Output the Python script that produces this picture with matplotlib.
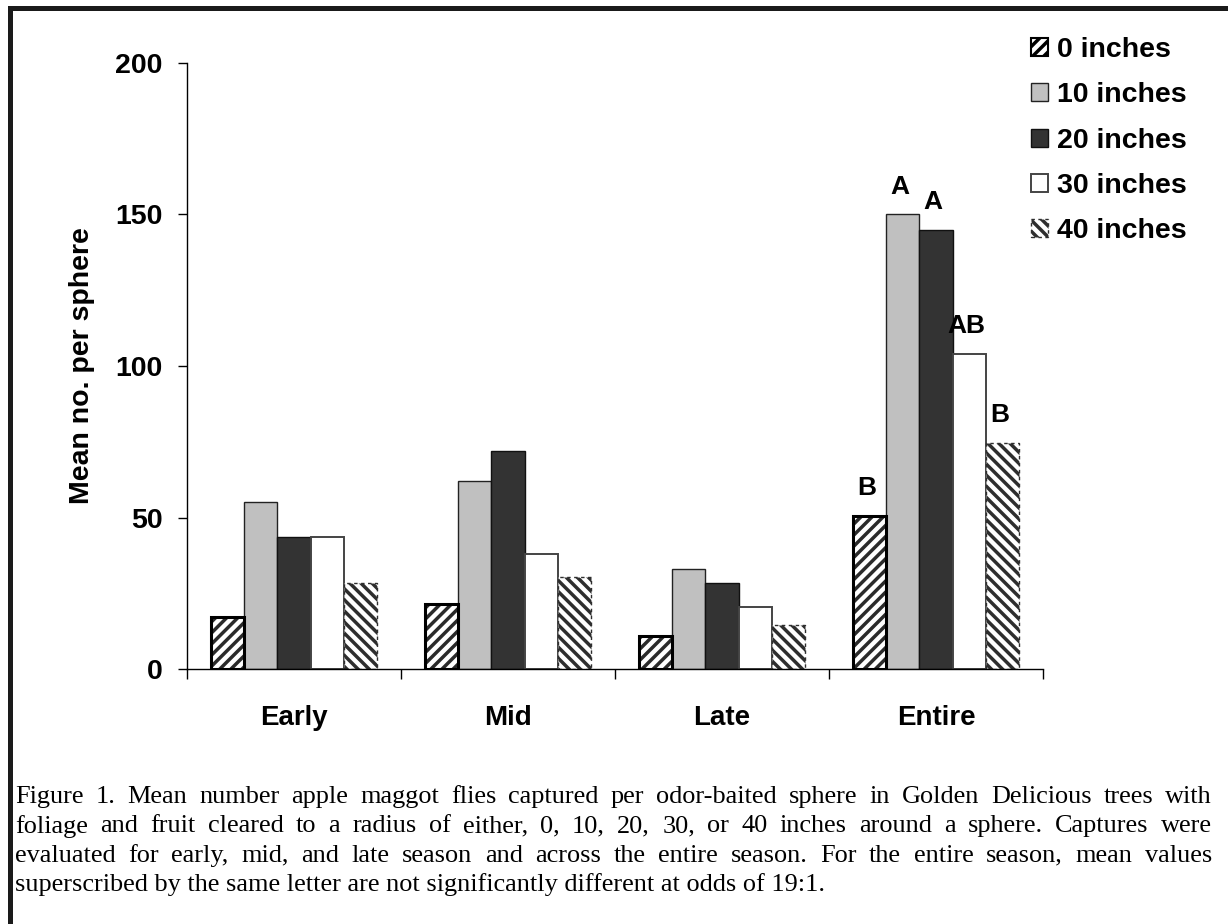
import matplotlib
matplotlib.use("Agg")
import matplotlib.pyplot as plt
from matplotlib.patches import Patch, Rectangle
import numpy as np

# mean captures per sphere, by clearing radius
periods = ["Early", "Mid", "Late", "Entire"]
distances = ["0 inches", "10 inches", "20 inches", "30 inches", "40 inches"]
in0 = [17, 21.5, 11, 50.5]
in10 = [55, 62, 33, 150]
in20 = [43.5, 72, 28.5, 145]
in30 = [43.5, 38, 20.5, 104]
in40 = [28.5, 30.5, 14.5, 74.5]
entire_letters = ["B", "A", "A", "AB", "B"]

caption = [
    "Figure 1. Mean number apple maggot flies captured per odor-baited sphere in Golden Delicious trees with",
    "foliage and fruit cleared to a radius of either, 0, 10, 20, 30, or 40 inches around a sphere. Captures were",
    "evaluated for early, mid, and late season and across the entire season. For the entire season, mean values",
    "superscribed by the same letter are not significantly different at odds of 19:1.",
]

plt.rcParams["hatch.linewidth"] = 2.5
bold = dict(family="Liberation Sans", weight="bold")

styles = [
    dict(facecolor="white", edgecolor="#2a2a2a", hatch="///", linewidth=0),
    dict(facecolor="#c0c0c0", edgecolor="#222222", linewidth=1.0),
    dict(facecolor="#333333", edgecolor="#111111", linewidth=1.0),
    dict(facecolor="white", edgecolor="#444444", linewidth=1.4),
    dict(facecolor="white", edgecolor="#2e2e2e", hatch="\\\\\\", linewidth=1.0,
         linestyle=(0, (2.5, 2.5))),
]

fig = plt.figure(figsize=(12.28, 9.24), dpi=100)
W, H = 1228, 924
ax = fig.add_axes([187 / W, 1 - 669 / H, 856 / W, 606 / H])

series = [in0, in10, in20, in30, in40]
centers = np.arange(len(periods)) + 0.5
width = 0.1556
bars = []
for i, (vals, st) in enumerate(zip(series, styles)):
    b = ax.bar(centers + (i - 2) * width, vals, width, label=distances[i], **st)
    bars.append(b)
# heavy outline on the 0 inch bars
ax.bar(centers - 2 * width, in0, width, fill=False, edgecolor="black", linewidth=2.2)

# significance letters over the whole-season bars
for i, letter in enumerate(entire_letters):
    rect = bars[i][3]
    ax.annotate(letter, (rect.get_x() + rect.get_width() / 2, rect.get_height()),
                xytext=(-2, 15), textcoords="offset points", ha="center",
                va="baseline", fontsize=19, **bold)

ax.set_xlim(0, 4)
ax.set_ylim(0, 200)
ax.set_yticks([0, 50, 100, 150, 200])
ax.tick_params(axis="y", direction="out", length=6.5, width=1, pad=11)
ax.set_yticklabels([0, 50, 100, 150, 200], fontsize=20.5, **bold)
ax.set_xticks([0, 1, 2, 3, 4])
ax.set_xticklabels([])
ax.tick_params(axis="x", which="major", direction="out", length=7.5, width=1)
ax.set_xticks(centers, minor=True)
ax.set_xticklabels(periods, minor=True, fontsize=20, **bold)
ax.tick_params(axis="x", which="minor", length=0, pad=26)
for s in ["top", "right"]:
    ax.spines[s].set_visible(False)
ax.spines["left"].set_linewidth(1)
ax.spines["bottom"].set_linewidth(1)

ax.set_ylabel("Mean no. per sphere", fontsize=20.5, **bold)
ax.yaxis.set_label_coords(-0.108, 0.5)

legend_styles = [dict(styles[0], edgecolor="black", linewidth=1.5)] + styles[1:]
handles = [Patch(label=d, **st) for d, st in zip(distances, legend_styles)]
fig.legend(handles=handles, loc="upper left", bbox_to_anchor=(1031 / W, 1 - 37 / H),
           frameon=False, borderpad=0, borderaxespad=0, handlelength=0.6,
           handleheight=0.6, handletextpad=0.33, labelspacing=0.68,
           prop=dict(**bold, size=20.5))

# caption, justified except the last line
renderer = fig.canvas.get_renderer()
cap_font = dict(family="Liberation Serif", size=18.9)
x0, x1 = 15, 1212
for k, line in enumerate(caption):
    y = 1 - (797 + 29.3 * k) / H
    if k == len(caption) - 1:
        fig.text(x0 / W, y, line, va="center", ha="left", **cap_font)
        continue
    words = line.split()
    arts = [fig.text(0, y, w, va="center", ha="left", **cap_font) for w in words]
    widths = [a.get_window_extent(renderer).width for a in arts]
    gap = ((x1 - x0) - sum(widths)) / (len(words) - 1)
    x = x0
    for a, w in zip(arts, widths):
        a.set_x(x / W)
        x += w + gap

# frame around the figure
fig.add_artist(Rectangle((9.5 / W, -0.1), 1.2, 1.1 - 8 / H, transform=fig.transFigure,
                         fill=False, linewidth=3.6, edgecolor="#1a1a1a", clip_on=False))

fig.savefig("out.png", dpi=100)
